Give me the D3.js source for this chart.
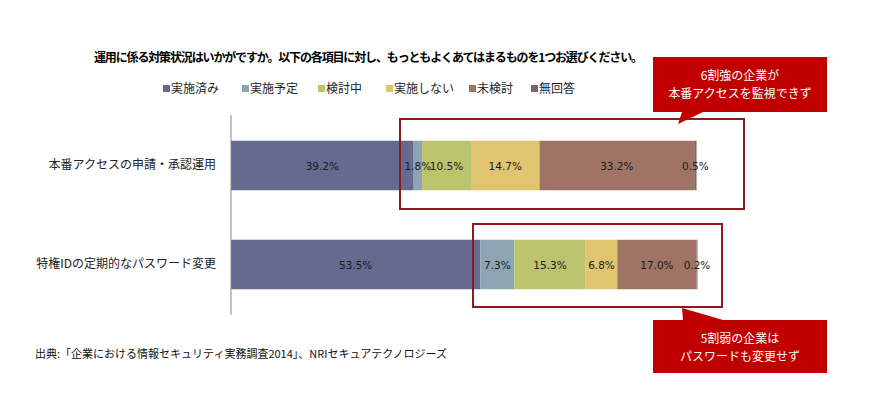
<!DOCTYPE html>
<html lang="ja">
  <head>
    <meta charset="utf-8">
    <title>運用に係る対策状況</title>
    <script src="https://d3js.org/d3.v7.min.js"></script>
    <style>
      body { margin: 0; background: #fff; }
      text { font-family: "Noto Sans CJK JP", sans-serif; }
    </style>
  </head>
  <body>
    <script>
      var categories = ["本番アクセスの申請・承認運用", "特権IDの定期的なパスワード変更"];
      var series = ["実施済み", "実施予定", "検討中", "実施しない", "未検討", "無回答"];
      var colors = ["#646b8e", "#8da4b5", "#bbc36c", "#e0c46f", "#a07465", "#7e6560"];
      var values = [
        [39.2, 1.8, 10.5, 14.7, 33.2, 0.5],
        [53.5, 7.3, 15.3, 6.8, 17.0, 0.2]
      ];
      var legendX = [163, 242, 318, 386, 469, 531];

      var svg = d3.select("body").append("svg")
                  .attr("width", 869)
                  .attr("height", 399);

      var x = d3.scaleLinear().domain([0, 100]).range([231, 697]);
      var y = d3.scaleBand().domain(categories).range([116, 314])
                .paddingInner(0.5).paddingOuter(0.25);

      // title
      svg.append("text")
         .attr("x", 94).attr("y", 62)
         .style("font-size", "12px").style("font-weight", "bold")
         .attr("textLength", 549)
         .text("運用に係る対策状況はいかがですか。以下の各項目に対し、もっともよくあてはまるものを1つお選びください。");

      // legend
      var lg = svg.selectAll(".lg").data(series).enter().append("g")
                  .attr("transform", function(d, i) { return "translate(" + legendX[i] + ",89)"; });
      lg.append("rect").attr("x", 0).attr("y", -4).attr("width", 7).attr("height", 7)
        .style("fill", function(d, i) { return colors[i]; });
      lg.append("text").attr("x", 8).attr("y", 4)
        .style("font-size", "12px").style("fill", "#222")
        .text(function(d) { return d; });

      // stacked bars, then labels on top
      var segs = [];
      values.forEach(function(row, r) {
        var acc = 0;
        row.forEach(function(v, s) {
          segs.push({cat: categories[r], s: s, v: v, x0: acc, x1: acc + v});
          acc += v;
        });
      });

      svg.selectAll(".seg").data(segs).enter().append("rect")
         .attr("x", function(d) { return x(d.x0); })
         .attr("y", function(d) { return y(d.cat); })
         .attr("width", function(d) { return x(d.x1) - x(d.x0); })
         .attr("height", y.bandwidth())
         .style("fill", function(d) { return colors[d.s]; });

      svg.selectAll(".lbl").data(segs).enter().append("text")
         .attr("x", function(d) { return (x(d.x0) + x(d.x1)) / 2; })
         .attr("y", function(d) { return y(d.cat) + y.bandwidth() / 2 + 4; })
         .attr("text-anchor", "middle")
         .style("font-family", "'DejaVu Sans', sans-serif")
         .style("font-size", "10.5px").style("fill", "#1a1a1a")
         .text(function(d) { return d.v.toFixed(1) + "%"; });

      // category axis
      var axis = svg.append("g").attr("transform", "translate(231,0)")
                    .call(d3.axisLeft(y).tickSize(0).tickPadding(15));
      axis.select(".domain").attr("d", "M0,115V315").style("stroke", "#888");
      axis.selectAll("text").style("font-size", "12px").style("fill", "#222")
          .style("font-family", "'Noto Sans CJK JP', sans-serif");

      // highlight boxes
      svg.append("rect").attr("x", 400).attr("y", 119).attr("width", 344).attr("height", 90)
         .style("fill", "none").style("stroke", "#8e1a1f").style("stroke-width", 2);
      svg.append("rect").attr("x", 473).attr("y", 224).attr("width", 249).attr("height", 83)
         .style("fill", "none").style("stroke", "#8e1a1f").style("stroke-width", 2);

      // callouts
      svg.append("path").attr("d", "M653,57H827V112H703L678,124L682,112H653Z").style("fill", "#c00000");
      svg.append("path").attr("d", "M653,320H683L682,308L723,320H827V373H653Z").style("fill", "#c00000");
      var notes = [
        {y: 80, t: "6割強の企業が"},
        {y: 98, t: "本番アクセスを監視できず"},
        {y: 343, t: "5割弱の企業は"},
        {y: 361, t: "パスワードも変更せず"}
      ];
      svg.selectAll(".note").data(notes).enter().append("text")
         .attr("x", 740).attr("y", function(d) { return d.y; })
         .attr("text-anchor", "middle")
         .style("font-size", "12px").style("fill", "#fff")
         .text(function(d) { return d.t; });

      // source
      svg.append("text").attr("x", 35).attr("y", 358)
         .style("font-size", "11px").style("fill", "#111")
         .text("出典:「企業における情報セキュリティ実務調査2014」、NRIセキュアテクノロジーズ");
    </script>
  </body>
</html>
